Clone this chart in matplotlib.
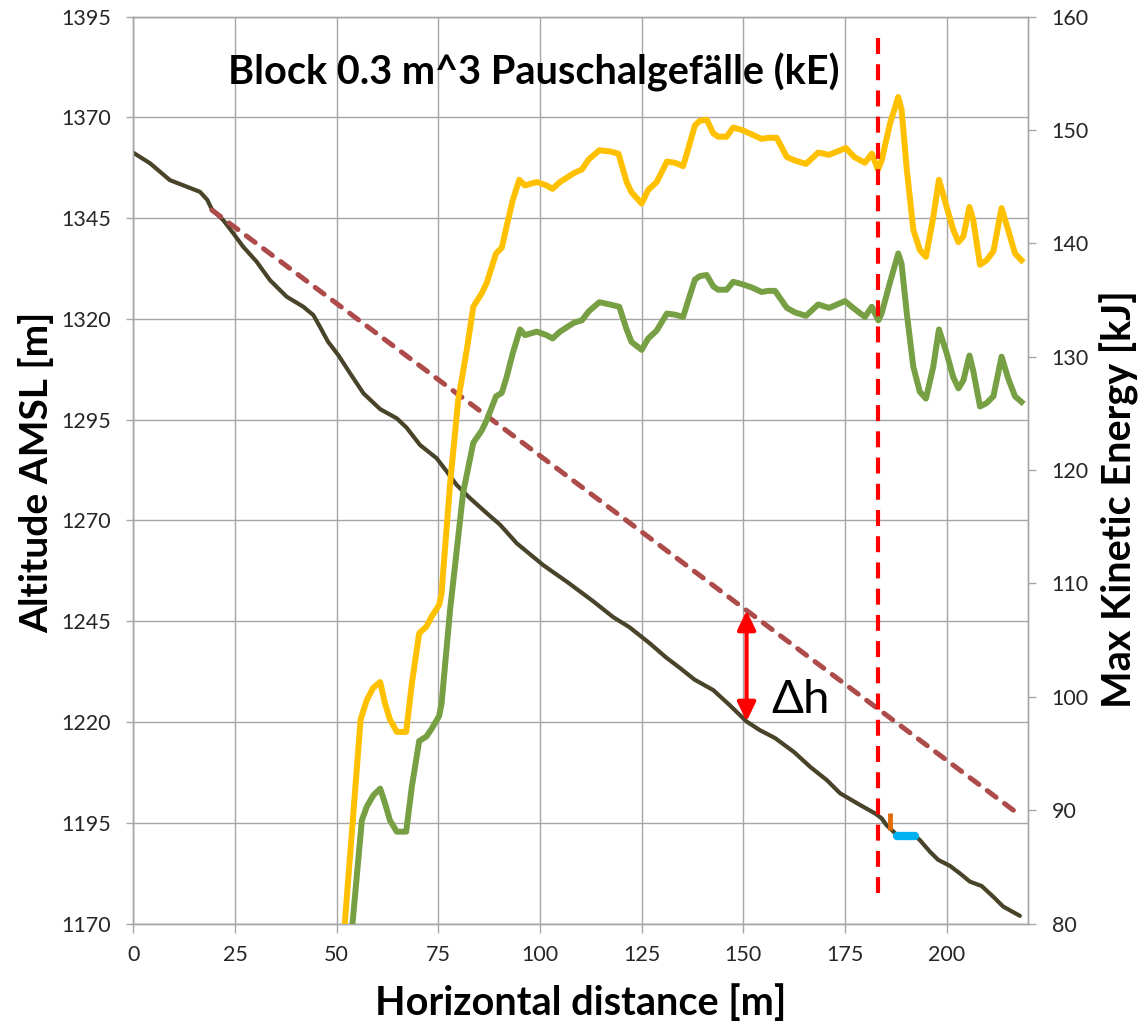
import numpy as np
import matplotlib
matplotlib.use("Agg")
import matplotlib.pyplot as plt
from matplotlib.patches import FancyArrowPatch
from matplotlib.transforms import blended_transform_factory

plt.rcParams['font.family'] = ['Lato', 'DejaVu Sans']
plt.rcParams['lines.scale_dashes'] = False

# Terrain profile (altitude, left axis)
terrain_x = [0, 4.1, 9.0, 13.1, 16.4, 18.2, 19.3, 22.1, 24.6, 27.0, 30.3, 33.6, 37.7,
             41.8, 44.3, 45.9, 47.9, 50.4, 53.3, 56.6, 60.7, 64.8, 67.2, 70.5, 74.6,
             77.1, 79.5, 82.8, 86.9, 90.2, 94.3, 100.8, 107.0, 113.0, 118.0, 122.0,
             127.0, 131.0, 134.4, 138.0, 142.6, 146.5, 150.8, 154.0, 157.8, 162.5,
             166.5, 170.5, 173.8, 178.7, 182.4, 184.0, 185.2, 186.5, 187.8, 192.5,
             193.4, 195.9, 197.9, 200.8, 203.3, 205.7, 208.6, 211.5, 213.9, 218.0]
terrain_alt = [1361.2, 1358.6, 1354.4, 1352.8, 1351.5, 1349.5, 1347.2, 1344.5, 1341.2,
               1337.9, 1334.2, 1329.6, 1325.5, 1323.0, 1320.9, 1318.0, 1314.3, 1311.0,
               1306.5, 1301.5, 1297.6, 1295.3, 1293.0, 1288.7, 1285.4, 1282.1, 1278.8,
               1275.5, 1271.8, 1268.9, 1264.3, 1258.9, 1254.5, 1250.0, 1246.0, 1243.5,
               1239.5, 1236.0, 1233.4, 1230.5, 1227.9, 1224.3, 1220.1, 1218.0, 1216.0,
               1212.5, 1208.8, 1205.6, 1202.3, 1199.4, 1197.3, 1196.1, 1194.4, 1193.2,
               1191.9, 1191.5, 1190.7, 1187.8, 1185.8, 1184.3, 1182.4, 1180.4, 1179.3,
               1176.6, 1174.2, 1171.9]

# Energy line (Pauschalgefaelle) end points
energy_line_x = [19.3, 218.0]
energy_line_alt = [1347.0, 1196.9]

# Max kinetic energy, upper envelope (right axis)
ke_high_x = [52.0, 55.9, 57.4, 59.0, 60.7, 61.9, 63.1, 64.8, 67.1, 68.5, 70.3, 72.1, 73.4,
             75.2, 75.8, 76.3, 77.9, 79.9, 82.0, 83.6, 85.7, 86.9, 89.2, 90.6, 91.8, 93.3,
             94.9, 96.3, 99.2, 101.6, 103.1, 104.9, 108.4, 110.3, 112.0, 114.6, 117.2,
             119.3, 121.3, 122.5, 125.0, 126.6, 128.7, 131.2, 133.2, 135.2, 136.5, 138.1,
             139.3, 141.0, 142.6, 143.8, 145.9, 147.5, 149.6, 152.1, 154.5, 156.1, 158.2,
             160.7, 162.7, 165.4, 168.4, 171.1, 175.2, 177.3, 179.9, 181.6, 183.1, 184.0,
             186.1, 188.1, 188.9, 190.2, 191.8, 193.4, 194.9, 196.7, 198.1, 200.0, 201.6,
             202.9, 204.1, 205.6, 206.5, 208.2, 209.8, 211.5, 213.5, 215.1, 216.8, 218.4]
ke_high = [80.0, 98.0, 99.7, 100.8, 101.3, 99.4, 98.0, 96.9, 96.9, 101.2, 105.6, 106.2,
           107.1, 108.1, 109.1, 111.5, 118.8, 126.2, 130.6, 134.4, 135.6, 136.5, 139.1,
           139.6, 141.5, 143.8, 145.6, 145.1, 145.4, 145.1, 144.8, 145.4, 146.2, 146.5,
           147.4, 148.2, 148.1, 147.9, 145.4, 144.5, 143.5, 144.7, 145.4, 147.2, 147.1,
           146.8, 148.4, 150.4, 150.8, 150.9, 149.7, 149.4, 149.4, 150.2, 150.0, 149.6,
           149.2, 149.3, 149.3, 147.6, 147.3, 147.0, 148.0, 147.8, 148.4, 147.6, 147.1,
           147.9, 146.5, 147.3, 150.6, 152.9, 151.8, 146.5, 141.2, 139.4, 138.8, 142.3,
           145.6, 143.2, 141.2, 140.1, 140.6, 143.2, 142.1, 138.1, 138.5, 139.3, 143.1,
           141.2, 139.1, 138.5]

# Max kinetic energy, lower envelope (right axis)
ke_low_x = [53.9, 56.2, 57.4, 59.0, 60.7, 61.9, 63.1, 64.8, 67.1, 68.5, 70.3, 72.1, 73.4,
            75.2, 75.8, 77.9, 79.0, 81.1, 83.6, 85.7, 86.9, 89.2, 90.6, 91.8, 93.3, 95.1,
            96.3, 99.2, 101.6, 103.1, 104.9, 108.4, 110.3, 112.0, 114.6, 117.2, 119.5,
            121.3, 122.5, 125.0, 126.6, 128.7, 131.2, 133.2, 135.2, 136.5, 138.1, 139.3,
            141.0, 142.6, 143.8, 145.9, 147.5, 149.6, 152.1, 154.5, 156.1, 157.8, 160.7,
            162.7, 165.4, 168.4, 171.1, 175.0, 177.0, 179.9, 181.6, 183.2, 184.0, 186.1,
            188.1, 188.9, 190.2, 191.8, 193.4, 194.9, 196.7, 198.1, 200.0, 201.6, 202.9,
            204.1, 205.6, 206.5, 208.2, 209.8, 211.5, 213.5, 215.1, 216.8, 218.4]
ke_low = [80.0, 89.1, 90.3, 91.3, 91.9, 90.6, 89.1, 88.1, 88.1, 92.1, 96.1, 96.5, 97.2,
          98.3, 99.4, 107.7, 111.2, 118.0, 122.4, 123.5, 124.4, 126.5, 126.8, 128.2,
          130.3, 132.4, 131.9, 132.2, 131.9, 131.6, 132.2, 133.0, 133.2, 134.0, 134.8,
          134.6, 134.4, 132.4, 131.3, 130.6, 131.6, 132.3, 133.8, 133.7, 133.5, 135.0,
          136.8, 137.1, 137.2, 136.2, 135.9, 135.9, 136.6, 136.4, 136.1, 135.7, 135.8,
          135.8, 134.3, 133.9, 133.6, 134.6, 134.3, 134.9, 134.3, 133.5, 134.4, 133.2,
          133.8, 136.6, 139.1, 138.2, 133.8, 129.1, 126.9, 126.3, 129.1, 132.4, 130.3,
          128.2, 127.2, 127.9, 130.1, 128.8, 125.6, 125.9, 126.5, 130.0, 128.1, 126.5,
          126.0]

# Runout markers
runout_x = 183.0
stop_tick_x = [186.1, 186.1]
stop_tick_alt = [1197.4, 1193.2]
stop_zone_x = [187.8, 192.3]
stop_zone_alt = [1191.7, 1191.7]
dh_x = 150.8

alt_ticks = list(range(1170, 1396, 25))
ke_ticks = list(range(80, 161, 10))
dist_ticks = list(range(0, 201, 25))

grid_col = '#A6A6A6'
tick_col = '#262626'

fig = plt.figure(figsize=(11.42, 10.23), dpi=100)
ax1 = fig.add_axes([0.11673, 0.09726, 0.78345, 0.88661])
ax2 = ax1.twinx()

ax1.set_xlim(0, 220)
ax1.set_ylim(1170, 1395)
ax2.set_ylim(80, 160)
ax1.set_xticks(dist_ticks)
ax1.set_yticks(alt_ticks)
ax2.set_yticks(ke_ticks)

ax1.grid(True, color=grid_col, linewidth=1.0)
ax1.set_axisbelow(True)
for ax in (ax1, ax2):
    for sp in ax.spines.values():
        sp.set_color(grid_col)
        sp.set_linewidth(1.0)
ax1.tick_params(axis='x', length=6.5, width=1.0, color=grid_col, pad=9,
                labelsize=15.5, labelcolor=tick_col)
ax1.tick_params(axis='y', length=5, width=1.0, color=grid_col, pad=11,
                labelsize=15.5, labelcolor=tick_col)
ax2.tick_params(axis='y', length=6, width=1.0, color=grid_col, pad=11,
                labelsize=15.5, labelcolor=tick_col)

# Terrain and energy line
ax1.plot(terrain_x, terrain_alt, color='#494429', linewidth=3.0, solid_capstyle='round',
         solid_joinstyle='round', zorder=3)
ax1.plot(energy_line_x, energy_line_alt, color='#AD4B4B', linewidth=3.6,
         dashes=(8.0, 7.5), dash_capstyle='round', zorder=3)
ax1.plot(stop_tick_x, stop_tick_alt, color='#E36C09', linewidth=3.5,
         solid_capstyle='butt', zorder=4)
ax1.plot(stop_zone_x, stop_zone_alt, color='#00B0F0', linewidth=6.0,
         solid_capstyle='round', zorder=4)

# Kinetic energy curves
ax2.plot(ke_high_x, ke_high, color='#FFC000', linewidth=4.3, solid_joinstyle='round',
         zorder=3)
ax2.plot(ke_low_x, ke_low, color='#77A044', linewidth=4.3, solid_joinstyle='round',
         zorder=3)

# Runout distance marker, dashed from the top down
vtrans = blended_transform_factory(ax2.transData, ax2.transAxes)
ax2.plot([runout_x, runout_x], [(923.5 - 38) / 907, (923.5 - 893) / 907],
         transform=vtrans, color='#FF0000', linewidth=3.0, dashes=(11.5, 7.38), zorder=5)

# Height difference arrow
dh_bottom = np.interp(dh_x, terrain_x, terrain_alt)
dh_top = np.interp(dh_x, energy_line_x, energy_line_alt)
arrow = FancyArrowPatch((dh_x, dh_bottom), (dh_x, dh_top),
                        arrowstyle='<|-|>,head_length=1.15,head_width=0.55',
                        mutation_scale=10, color='#FF0000', linewidth=3.0,
                        shrinkA=0, shrinkB=0, transform=ax1.transData, zorder=6)
ax2.add_patch(arrow)
ax1.text(157.0, 1222.2, 'Δh', fontsize=34, ha='left', va='baseline', color='black',
         zorder=6)

fig.text(534 / 1142, 1 - 85 / 1023, 'Block 0.3 m^3 Pauschalgefälle (kE)', fontsize=28.5,
         fontweight='bold', ha='center', va='baseline')
fig.text(581 / 1142, 1 - 1015 / 1023, 'Horizontal distance [m]', fontsize=28.5,
         fontweight='bold', ha='center', va='baseline')
fig.text(36 / 1142, 1 - 472 / 1023, 'Altitude AMSL [m]', fontsize=28, fontweight='bold',
         rotation=90, ha='center', va='center')
fig.text(1119 / 1142, 1 - 499 / 1023, 'Max Kinetic Energy [kJ]', fontsize=28.5,
         fontweight='bold', rotation=90, ha='center', va='center')

fig.savefig('out.png', dpi=100)
